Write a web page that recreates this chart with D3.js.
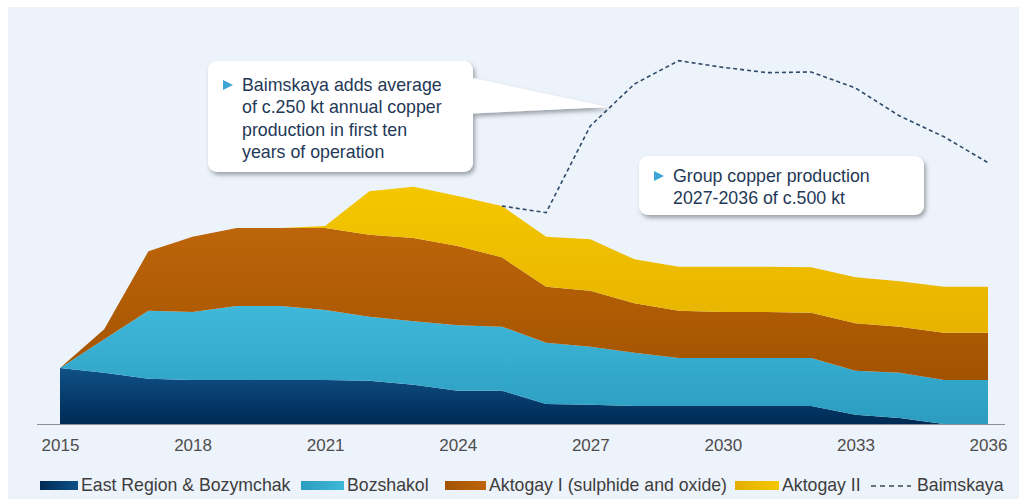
<!DOCTYPE html>
<html>
<head>
<meta charset="utf-8">
<script src="https://cdn.jsdelivr.net/npm/d3@7"></script>
<style>
  html, body { margin: 0; padding: 0; background: #ffffff; }
  svg { display: block; }
  text { font-family: "Liberation Sans", Arial, sans-serif; }
</style>
</head>
<body>
<svg id="chart" width="1019" height="499"></svg>
<script>
// ---- data (kt copper) ----
const years = [2015,2016,2017,2018,2019,2020,2021,2022,2023,2024,2025,2026,2027,2028,2029,2030,2031,2032,2033,2034,2035,2036];
const eastRegion = [84,77,68,66,66,66,66,65,59,50,50,30,29,27,27,27,27,27,14,9,0,0];
const bozshakol  = [0,50,102,102,111,111,105,96,95,98,96,92,87,80,72,72,72,72,66,68,66,66];
const aktogay1   = [0,15,89,113,117,117,123,123,125,119,104,84,84,74,71,69,69,68,71,69,71,71];
const aktogay2   = [0,0,0,0,0,0,3,65,77,75,77,75,77,66,66,68,68,68,69,68,69,69];
const baimskaya  = [null,null,null,null,null,null,null,null,null,null,0,36,170,263,309,299,291,293,284,248,225,186];
const tickYears  = [2015,2018,2021,2024,2027,2030,2033,2036];
const seriesNames = ["East Region & Bozymchak","Bozshakol","Aktogay I (sulphide and oxide)","Aktogay II","Baimskaya"];
const callout1 = ["Baimskaya adds average","of c.250 kt annual copper","production in first ten","years of operation"];
const callout2 = ["Group copper production","2027-2036 of c.500 kt"];

const keys = ["east","boz","ak1","ak2"];
const rows = years.map((y,i) => ({year:y, east:eastRegion[i], boz:bozshakol[i], ak1:aktogay1[i], ak2:aktogay2[i], baim:baimskaya[i]}));

const svg = d3.select("#chart");
const W = 1019, H = 499;

// background
svg.append("rect").attr("x",8).attr("y",7).attr("width",W-8).attr("height",H-7).attr("fill","#edf3fa");

const defs = svg.append("defs");
const grads = [
  {id:"gEast", top:"#0f5187", bot:"#002a55"},
  {id:"gBoz", top:"#3fb8da", bot:"#2b9cc0"},
  {id:"gAk1", top:"#bd650a", bot:"#a25300"},
  {id:"gAk2", top:"#f4c700", bot:"#e4ae00"}
];
grads.forEach(g => {
  const lg = defs.append("linearGradient").attr("id", g.id).attr("x1",0).attr("y1",0).attr("x2",0).attr("y2",1);
  lg.append("stop").attr("offset","0%").attr("stop-color", g.top);
  lg.append("stop").attr("offset","100%").attr("stop-color", g.bot);
});
grads.forEach(g => {
  const lg = defs.append("linearGradient").attr("id", g.id+"H").attr("x1",0).attr("y1",0).attr("x2",1).attr("y2",0);
  lg.append("stop").attr("offset","0%").attr("stop-color", g.bot);
  lg.append("stop").attr("offset","100%").attr("stop-color", g.top);
});
const filt = defs.append("filter").attr("id","shadow").attr("x","-10%").attr("y","-10%").attr("width","130%").attr("height","140%");
filt.append("feDropShadow").attr("dx",2).attr("dy",3).attr("stdDeviation",2).attr("flood-color","#5a5f66").attr("flood-opacity",0.55);

const x = d3.scaleLinear().domain([2015, 2036]).range([60, 988]);
const y = d3.scaleLinear().domain([0, 600]).range([424, 24]);

const stack = d3.stack().keys(keys);
const layers = stack(rows);

const area = d3.area()
  .x(d => x(d.data.year))
  .y0(d => y(d[0]))
  .y1(d => y(d[1]));

svg.append("g").selectAll("path").data(layers).join("path")
  .attr("d", area)
  .attr("fill", (d,i) => `url(#${grads[i].id})`);

// Baimskaya dashed line (group total incl. Baimskaya)
const line = d3.line()
  .defined(d => d.baim !== null)
  .x(d => x(d.year))
  .y(d => y(d.east + d.boz + d.ak1 + d.ak2 + d.baim));
svg.append("path").datum(rows)
  .attr("d", line)
  .attr("fill","none")
  .attr("stroke","#2e4a68")
  .attr("stroke-width",1.6)
  .attr("stroke-dasharray","4,3");

// baseline
svg.append("line").attr("x1",37).attr("x2",1005).attr("y1",y(0)+0.5).attr("y2",y(0)+0.5)
  .attr("stroke","#8a8f96").attr("stroke-width",1);

// x axis
const axis = d3.axisBottom(x).tickValues(tickYears).tickFormat(d3.format("d")).tickSize(0).tickPadding(0);
const gx = svg.append("g").attr("transform", `translate(0,${y(0)})`).call(axis);
gx.select(".domain").remove();
gx.selectAll("text").attr("y", 27).attr("dy", 0).attr("font-size", 17).attr("fill", "#4d4d4d")
  .attr("font-family", '"Liberation Sans", Arial, sans-serif');

// callouts
function callout(g, bx, by, bw, bh, lines, tail) {
  const grp = svg.append("g").attr("filter","url(#shadow)");
  if (tail) {
    grp.append("path")
      .attr("d", `M${bx+bw-10},${tail[0]} L${tail[2]},${tail[3]} L${bx+bw-10},${tail[1]} Z`)
      .attr("fill","#ffffff");
  }
  grp.append("rect").attr("x",bx).attr("y",by).attr("width",bw).attr("height",bh)
    .attr("rx",9).attr("ry",9).attr("fill","#ffffff");
  if (tail) {
    svg.append("path")
      .attr("d", `M${bx+bw-12},${tail[0]+1} L${tail[2]-1},${tail[3]} L${bx+bw-12},${tail[1]-1} Z`)
      .attr("fill","#ffffff");
  }
  const tx = bx + 34;
  svg.append("path")
    .attr("d", `M${bx+15},${by+lines.y0-11} L${bx+25},${by+lines.y0-6} L${bx+15},${by+lines.y0-1} Z`)
    .attr("fill","#3ea6d6");
  lines.text.forEach((t,i) => {
    svg.append("text").attr("x", tx).attr("y", by + lines.y0 + i*lines.lh)
      .attr("font-size", 17.8).attr("fill","#1f3957").text(t);
  });
}
callout(svg, 208, 61, 265, 111, {text: callout1, y0: 30, lh: 22.3}, [76, 114, 608, 107]);
callout(svg, 639, 156, 285, 59, {text: callout2, y0: 26, lh: 22}, null);

// legend
const legend = svg.append("g");
const legItems = [
  {x:40, w:38, grad:"gEastH", tx:81, label:seriesNames[0]},
  {x:301, w:43, grad:"gBozH", tx:347, label:seriesNames[1]},
  {x:445, w:41, grad:"gAk1H", tx:489, label:seriesNames[2]},
  {x:735, w:44, grad:"gAk2H", tx:782, label:seriesNames[3]}
];
legItems.forEach(it => {
  legend.append("rect").attr("x",it.x).attr("y",481).attr("width",it.w).attr("height",9).attr("fill",`url(#${it.grad})`);
  legend.append("text").attr("x",it.tx).attr("y",491).attr("font-size",17.7).attr("fill","#3d3d3d").text(it.label);
});
legend.append("line").attr("x1",871).attr("x2",911).attr("y1",486).attr("y2",486)
  .attr("stroke","#3d4a5a").attr("stroke-width",1.5).attr("stroke-dasharray","5,4");
legend.append("text").attr("x",917).attr("y",491).attr("font-size",17.7).attr("fill","#3d3d3d").text(seriesNames[4]);
</script>
</body>
</html>
